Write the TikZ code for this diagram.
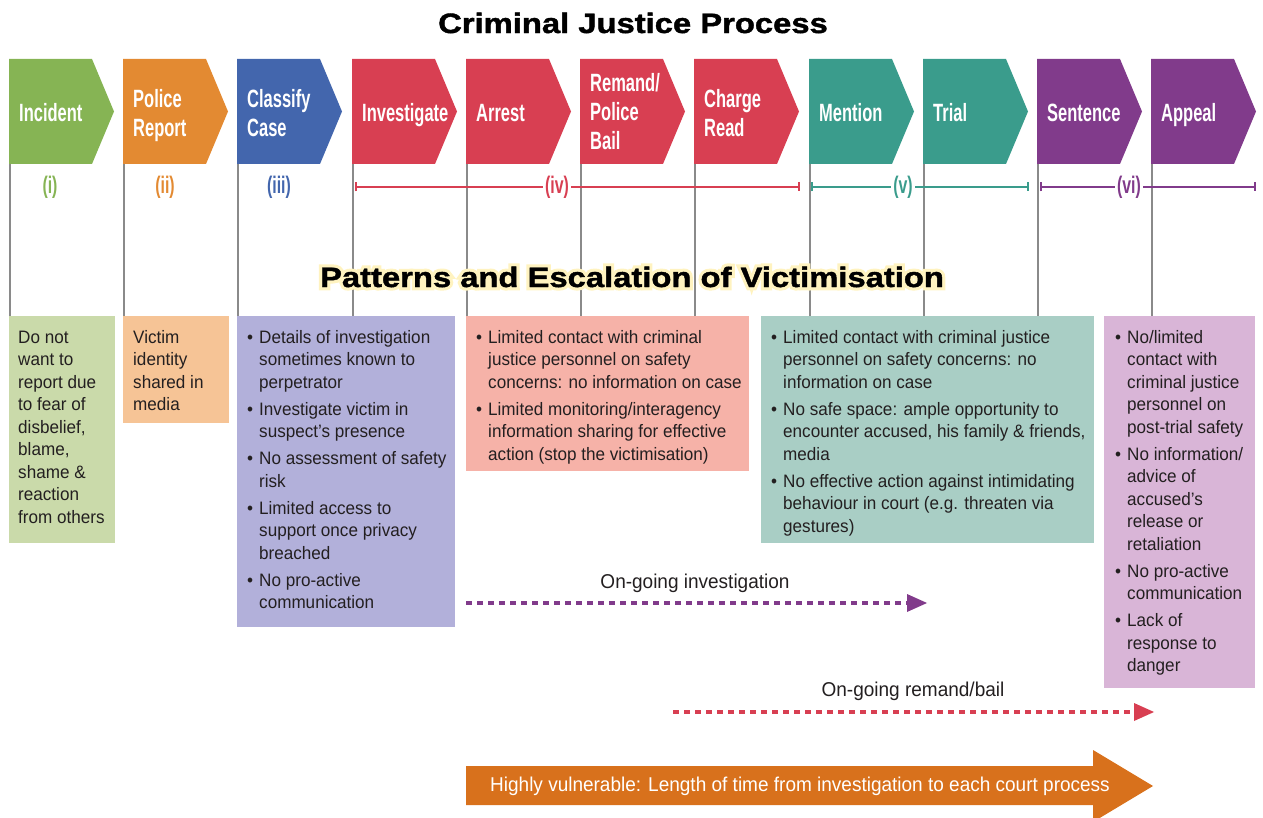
\documentclass[tikz,border=0pt]{standalone}
\usepackage{fontspec}
\setmainfont{Liberation Sans}
\newfontfamily\chevfont[FakeStretch=0.66]{Liberation Sans}
\newfontfamily\bodyfont[FakeStretch=0.95]{Liberation Sans}
\newfontfamily\titlefont[FakeStretch=1.17,FakeBold=1.5]{Liberation Sans}
\newfontfamily\glowfont[FakeStretch=1.17,FakeBold=24]{Liberation Sans}
\usetikzlibrary{arrows.meta}
\definecolor{cgreen}{HTML}{86B454}
\definecolor{corange}{HTML}{E38A32}
\definecolor{cblue}{HTML}{4366AD}
\definecolor{cred}{HTML}{D83F52}
\definecolor{cteal}{HTML}{3A9C8C}
\definecolor{cpurple}{HTML}{813B8B}
\definecolor{bgreen}{HTML}{CADAAA}
\definecolor{borange}{HTML}{F6C496}
\definecolor{blav}{HTML}{B2B0DA}
\definecolor{bpink}{HTML}{F6B2A8}
\definecolor{bteal}{HTML}{A9CEC5}
\definecolor{bmauve}{HTML}{D9B5D7}
\definecolor{bigorange}{HTML}{D8711C}
\definecolor{vgray}{HTML}{8A8A8A}
\definecolor{glow}{HTML}{FFF3C0}
\definecolor{ink}{HTML}{231F20}
\newcommand{\bul}{\makebox[12pt][l]{•}}
\newcommand{\ind}{\hspace*{12pt}}
\newcommand{\mkchev}[5]{%
  \fill[#3] (#2,59) -- ++(83,0) -- ++(22,52.5) -- ++(-22,52.5) -- ++(-83,0) -- cycle;
  \node[chevlbl, anchor=north west] (#1) at ({#2+10},#4) {\rule{0pt}{18pt}#5};
  \coordinate (#1top) at ({#2+1},164);
  \coordinate (#1bot) at ({#2+1},316);
  \draw[vline] (#1top) -- (#1bot);
}
\begin{document}
\begin{tikzpicture}[x=1pt,y=-1pt,
  chevlbl/.style={font=\chevfont\bfseries\fontsize{25}{29}\selectfont, text=white, align=left, inner sep=0pt},
  vline/.style={draw=vgray, line width=1.6pt},
  roman/.style={font=\chevfont\bfseries\fontsize{24}{26}\selectfont, inner sep=2pt},
  rangeline/.style={line width=1.5pt, {Bar[width=9pt,line width=2pt]}-{Bar[width=9pt,line width=2pt]}},
  boxbg/.style={anchor=north west, inner sep=0pt, draw=none},
  boxtxt/.style={font=\bodyfont\fontsize{18}{22.5}\selectfont, text=ink, align=left, anchor=north west, inner sep=0pt},
  pattitle/.style={font=\titlefont\bfseries\fontsize{28}{32}\selectfont, inner sep=0pt},
  glowtitle/.style={font=\glowfont\bfseries\fontsize{28}{32}\selectfont, inner sep=0pt},
  dasharrow/.style={line width=4.5pt, dash pattern=on 6pt off 5pt, -{Triangle[length=20pt,width=18pt,line width=0pt]}},
  note/.style={font=\bodyfont\fontsize{20}{24}\selectfont, text=ink, inner sep=0pt}
]
\useasboundingbox (0,0) rectangle (1263,818);

% title
\node[pattitle] (title) at (633,23) {Criminal Justice Process};

% chevrons
\mkchev{incident}{9}{cgreen}{103.5}{Incident}
\mkchev{police}{123}{corange}{89}{Police\\Report}
\mkchev{classify}{237}{cblue}{89}{Classify\\Case}
\mkchev{investigate}{352}{cred}{103.5}{Investigate}
\mkchev{arrest}{466}{cred}{103.5}{Arrest}
\mkchev{remand}{580}{cred}{73}{Remand/\\Police\\Bail}
\mkchev{charge}{694}{cred}{89}{Charge\\Read}
\mkchev{mention}{809}{cteal}{103.5}{Mention}
\mkchev{trial}{923}{cteal}{103.5}{Trial}
\mkchev{sentence}{1037}{cpurple}{103.5}{Sentence}
\mkchev{appeal}{1151}{cpurple}{103.5}{Appeal}

% stage numerals and ranges
\node[roman, text=cgreen] (r1) at (50,187) {(i)};
\node[roman, text=corange] (r2) at (165,187) {(ii)};
\node[roman, text=cblue] (r3) at (279,187) {(iii)};
\coordinate (r4a) at (355,187); \coordinate (r4b) at (800,187);
\coordinate (r5a) at (811,187); \coordinate (r5b) at (1029,187);
\coordinate (r6a) at (1040,187); \coordinate (r6b) at (1256,187);
\draw[rangeline, cred] (r4a) -- (r4b);
\draw[rangeline, cteal] (r5a) -- (r5b);
\draw[rangeline, cpurple] (r6a) -- (r6b);
\node[roman, text=cred, fill=white] (r4) at (557,187) {(iv)};
\node[roman, text=cteal, fill=white] (r5) at (903,187) {(v)};
\node[roman, text=cpurple, fill=white] (r6) at (1129,187) {(vi)};

% patterns title with glow (heavily emboldened copy underneath)
\node[glowtitle, text=glow] (glowcopy) at (632,277) {Patterns and Escalation of Victimisation};
\node[pattitle, text=black] (patterns) at (632,277) {Patterns and Escalation of Victimisation};

% boxes
\node[boxbg, fill=bgreen, minimum width=106pt, minimum height=227pt] (b1) at (9,316) {};
\node[boxbg, fill=borange, minimum width=106pt, minimum height=107pt] (b2) at (123,316) {};
\node[boxbg, fill=blav, minimum width=218pt, minimum height=311pt] (b3) at (237,316) {};
\node[boxbg, fill=bpink, minimum width=283pt, minimum height=155pt] (b4) at (466,316) {};
\node[boxbg, fill=bteal, minimum width=333pt, minimum height=227pt] (b5) at (761,316) {};
\node[boxbg, fill=bmauve, minimum width=151pt, minimum height=372pt] (b6) at (1104,316) {};

\node[boxtxt] (t1) at (18,329) {\rule{0pt}{14pt}Do not\\want to\\report due\\to fear of\\disbelief,\\blame,\\shame \&\\reaction\\from others};
\node[boxtxt] (t2) at (133,329) {\rule{0pt}{14pt}Victim\\identity\\shared in\\media};
\node[boxtxt] (t3) at (247,329) {\rule{0pt}{14pt}\bul Details of investigation\\\ind sometimes known to\\\ind perpetrator\\[4.5pt]
\bul Investigate victim in\\\ind suspect’s presence\\[4.5pt]
\bul No assessment of safety\\\ind risk\\[4.5pt]
\bul Limited access to\\\ind support once privacy\\\ind breached\\[4.5pt]
\bul No pro-active\\\ind communication};
\node[boxtxt] (t4) at (476,329) {\rule{0pt}{14pt}\bul Limited contact with criminal\\\ind justice personnel on safety\\\ind concerns: no information on case\\[4.5pt]
\bul Limited monitoring/interagency\\\ind information sharing for effective\\\ind action (stop the victimisation)};
\node[boxtxt] (t5) at (771,329) {\rule{0pt}{14pt}\bul Limited contact with criminal justice\\\ind personnel on safety concerns: no\\\ind information on case\\[4.5pt]
\bul No safe space: ample opportunity to\\\ind encounter accused, his family \& friends,\\\ind media\\[4.5pt]
\bul No effective action against intimidating\\\ind behaviour in court (e.g. threaten via\\\ind gestures)};
\node[boxtxt] (t6) at (1115,329) {\rule{0pt}{14pt}\bul No/limited\\\ind contact with\\\ind criminal justice\\\ind personnel on\\\ind post-trial safety\\[4.5pt]
\bul No information/\\\ind advice of\\\ind accused’s\\\ind release or\\\ind retaliation\\[4.5pt]
\bul No pro-active\\\ind communication\\[4.5pt]
\bul Lack of\\\ind response to\\\ind danger};

% ongoing arrows
\node[note] (inv) at (695,583) {On-going investigation};
\coordinate (inva) at (466,603); \coordinate (invb) at (927,603);
\draw[dasharrow, cpurple] (inva) -- (invb);
\node[note] (rem) at (913,691) {On-going remand/bail};
\coordinate (rema) at (673,712); \coordinate (remb) at (1154,712);
\draw[dasharrow, cred] (rema) -- (remb);

% big arrow
\fill[bigorange] (466,766) -- (1093,766) -- (1093,750) -- (1153,786) -- (1093,822) -- (1093,805) -- (466,805) -- cycle;
\node[note, text=white] (vuln) at (800,786) {Highly vulnerable: Length of time from investigation to each court process};
\end{tikzpicture}
\end{document}
